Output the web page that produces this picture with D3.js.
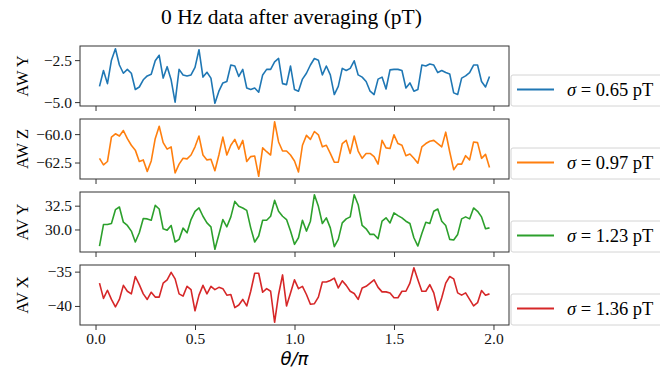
<!DOCTYPE html>
<html>
<head>
<meta charset="utf-8">
<script src="https://cdn.jsdelivr.net/npm/d3@7"></script>
<style>
    body { margin: 0; background: #fff; }
    svg { display: block; font-family: "Liberation Serif", "Times New Roman", serif; }
    .line { fill: none; stroke-width: 1.6; stroke-linejoin: round; }
    .tick line { stroke: #333; }
</style>
</head>
<body>
<div class="chart"></div>
<script>
const WIDTH = 660;
const HEIGHT = 373;
const LEFT = 80;
const RIGHT = 509;
const PANEL_TOP = 46;
const PANEL_STEP = 73;
const PANEL_HEIGHT = 60;
const SERIF = '"Liberation Serif", "Times New Roman", serif';

// theta / pi sample positions
var theta = [
    0.02, 0.04, 0.06, 0.08, 0.10, 0.12, 0.14, 0.16, 0.18, 0.20,
    0.22, 0.24, 0.26, 0.28, 0.30, 0.32, 0.34, 0.36, 0.38, 0.40,
    0.42, 0.44, 0.46, 0.48, 0.50, 0.52, 0.54, 0.56, 0.58, 0.60,
    0.62, 0.64, 0.66, 0.68, 0.70, 0.72, 0.74, 0.76, 0.78, 0.80,
    0.82, 0.84, 0.86, 0.88, 0.90, 0.92, 0.94, 0.96, 0.98, 1.00,
    1.02, 1.04, 1.06, 1.08, 1.10, 1.12, 1.14, 1.16, 1.18, 1.20,
    1.22, 1.24, 1.26, 1.28, 1.30, 1.32, 1.34, 1.36, 1.38, 1.40,
    1.42, 1.44, 1.46, 1.48, 1.50, 1.52, 1.54, 1.56, 1.58, 1.60,
    1.62, 1.64, 1.66, 1.68, 1.70, 1.72, 1.74, 1.76, 1.78, 1.80,
    1.82, 1.84, 1.86, 1.88, 1.90, 1.92, 1.94, 1.96, 1.98
];

var awY = [
    -4.06, -3.12, -3.90, -2.50, -1.82, -2.79, -3.28, -3.05, -3.28, -4.25,
    -4.10, -3.67, -3.44, -3.34, -2.54, -2.21, -3.57, -2.89, -3.67, -5.00,
    -3.05, -3.38, -3.44, -3.38, -2.93, -1.88, -3.51, -3.22, -3.57, -5.07,
    -4.35, -3.86, -3.77, -2.79, -2.85, -3.47, -3.05, -4.16, -4.25, -4.16,
    -4.41, -3.38, -3.05, -3.05, -2.60, -2.40, -3.90, -3.96, -2.85, -4.25,
    -4.35, -3.63, -3.28, -2.79, -2.40, -2.50, -3.38, -2.85, -3.38, -4.55,
    -4.06, -2.99, -3.12, -2.99, -2.54, -3.38, -3.51, -3.77, -4.35, -4.55,
    -3.63, -3.51, -4.22, -3.08, -3.05, -3.05, -3.12, -4.16, -3.86, -4.35,
    -4.25, -2.79, -2.85, -2.73, -2.79, -3.24, -3.12, -3.24, -3.32, -4.45,
    -4.55, -3.57, -3.44, -3.24, -2.79, -2.79, -3.77, -4.10, -3.47
];

var awZ = [
    -62.13, -62.70, -62.41, -60.26, -59.97, -60.17, -59.68, -60.40, -60.98, -61.41,
    -62.41, -62.27, -63.28, -62.36, -60.40, -59.31, -60.75, -61.32, -61.12, -63.42,
    -62.64, -62.13, -62.18, -61.84, -61.12, -60.17, -61.84, -62.27, -62.21, -63.22,
    -61.84, -60.26, -61.84, -60.98, -60.46, -61.32, -60.55, -62.41, -61.98, -61.93,
    -63.71, -61.21, -61.55, -61.84, -58.91, -60.69, -61.49, -61.49, -61.84, -62.36,
    -63.33, -60.98, -60.11, -60.46, -59.77, -60.06, -61.12, -60.98, -61.70, -62.47,
    -62.47, -60.83, -60.55, -61.70, -60.17, -61.49, -62.13, -61.70, -61.70, -61.98,
    -62.64, -60.55, -61.21, -61.26, -60.06, -60.83, -60.98, -61.90, -61.75, -62.13,
    -62.56, -61.12, -60.83, -60.63, -60.55, -60.83, -61.12, -59.83, -61.55, -63.13,
    -62.64, -62.64, -61.90, -62.27, -60.69, -60.75, -62.13, -61.78, -62.93
];

var avY = [
    28.26, 30.52, 30.52, 30.63, 32.08, 32.36, 30.76, 30.42, 29.83, 28.68,
    29.65, 31.15, 31.11, 30.97, 32.53, 32.15, 30.07, 29.93, 30.42, 28.68,
    28.96, 30.14, 29.65, 31.04, 31.91, 32.26, 31.39, 30.69, 30.28, 27.92,
    29.48, 31.04, 30.28, 31.32, 32.95, 32.43, 32.26, 32.01, 30.17, 28.68,
    29.31, 30.97, 30.97, 31.39, 33.06, 31.91, 31.39, 31.04, 29.83, 28.44,
    29.13, 30.97, 29.83, 30.87, 33.65, 32.43, 30.63, 31.22, 30.17, 28.19,
    28.96, 30.69, 31.11, 31.32, 33.65, 32.60, 30.42, 30.07, 29.48, 29.48,
    29.03, 30.87, 31.22, 30.69, 31.74, 31.46, 31.22, 30.87, 30.63, 29.13,
    28.26, 29.58, 30.76, 30.63, 31.91, 32.15, 30.87, 30.42, 28.96, 28.89,
    29.48, 31.11, 31.32, 31.11, 32.26, 31.91, 31.32, 30.07, 30.17
];

var avX = [
    -36.67, -38.90, -37.71, -39.05, -40.14, -39.05, -37.00, -37.86, -38.24, -35.71,
    -36.90, -38.24, -39.05, -38.00, -38.71, -38.71, -36.67, -36.19, -35.10, -36.05,
    -38.24, -38.57, -37.14, -37.62, -40.71, -38.43, -37.00, -38.24, -37.14, -37.62,
    -37.29, -37.48, -38.43, -38.33, -40.24, -39.86, -39.05, -40.00, -37.86, -35.24,
    -35.24, -38.00, -37.48, -37.86, -42.38, -38.33, -35.48, -40.00, -38.10, -36.19,
    -37.48, -37.14, -38.33, -39.76, -39.67, -38.71, -36.52, -36.52, -36.29, -35.95,
    -37.38, -36.33, -37.00, -37.86, -38.19, -39.05, -37.38, -37.14, -36.67, -36.19,
    -37.29, -37.95, -37.95, -38.10, -38.81, -38.81, -37.86, -37.86, -36.67, -34.43,
    -36.19, -37.86, -37.86, -36.90, -38.10, -40.62, -38.81, -36.67, -35.71, -36.05,
    -38.10, -38.43, -38.10, -39.05, -40.00, -39.52, -37.76, -38.43, -38.24
];

var panelNames = ["AW Y", "AW Z", "AV Y", "AV X"];
var panelSeries = [awY, awZ, avY, avX];
var panelColors = ["#1f77b4", "#ff7f0e", "#2ca02c", "#d62728"];
var sigmaLabels = ["0.65", "0.97", "1.23", "1.36"];

var yTickValues = [[-5.0, -2.5], [-62.5, -60.0], [30.0, 32.5], [-40, -35]];
var yTickLabels = [["\u22125.0", "\u22122.5"], ["\u221262.5", "\u221260.0"], ["30.0", "32.5"], ["\u221240", "\u221235"]];
var xTickValues = [0.0, 0.5, 1.0, 1.5, 2.0];
var xTickLabels = ["0.0", "0.5", "1.0", "1.5", "2.0"];

function padded(values) {
    var ext = d3.extent(values);
    var pad = (ext[1] - ext[0]) * 0.05;
    return [ext[0] - pad, ext[1] + pad];
}

var xScale = d3.scaleLinear().domain(padded(theta)).range([LEFT, RIGHT]);

var svg = d3.select('.chart').append('svg')
    .attr('width', WIDTH)
    .attr('height', HEIGHT);

svg.append('text')
    .attr('x', (LEFT + RIGHT) / 2 - 3)
    .attr('y', 24)
    .attr('text-anchor', 'middle')
    .style('font-size', '21.5px')
    .text('0 Hz data after averaging (pT)');

function styleTicks(axisG) {
    axisG.attr('font-family', null).attr('font-size', null);
    axisG.selectAll('.tick text')
        .style('font-family', SERIF)
        .style('font-size', '15.5px')
        .attr('fill', '#111');
}

function drawPanel(k) {
    var top = PANEL_TOP + k * PANEL_STEP;
    var bottom = top + PANEL_HEIGHT;
    var values = panelSeries[k];
    var yScale = d3.scaleLinear().domain(padded(values)).range([bottom, top]);
    var g = svg.append('g');

    var isLast = k === panelSeries.length - 1;
    var xAxis = d3.axisBottom(xScale).tickValues(xTickValues).tickSize(5).tickPadding(3)
        .tickFormat(function (d, i) { return isLast ? xTickLabels[i] : ''; });
    var xAxisG = g.append('g').attr('transform', 'translate(0,' + bottom + ')').call(xAxis);
    styleTicks(xAxisG);

    var yAxis = d3.axisLeft(yScale).tickValues(yTickValues[k]).tickSize(5).tickPadding(3)
        .tickFormat(function (d, i) { return yTickLabels[k][i]; });
    var yAxisG = g.append('g').attr('transform', 'translate(' + LEFT + ',0)').call(yAxis);
    styleTicks(yAxisG);

    g.selectAll('.domain').remove();

    // legend box, sticks out past the figure edge
    var legend = g.append('g');
    legend.append('rect')
        .attr('x', RIGHT + 2).attr('y', bottom - 31)
        .attr('width', 170).attr('height', 31)
        .attr('rx', 2)
        .attr('fill', '#fff').attr('stroke', '#d4d4d4');
    legend.append('line')
        .attr('x1', 517).attr('x2', 554)
        .attr('y1', bottom - 16.5).attr('y2', bottom - 16.5)
        .attr('stroke', panelColors[k]).attr('stroke-width', 1.8);
    var lt = legend.append('text')
        .attr('x', 567).attr('y', bottom - 10)
        .style('font-size', '18.5px');
    lt.append('tspan').style('font-style', 'italic').text('\u03c3');
    lt.append('tspan').text(' = ' + sigmaLabels[k] + ' pT');

    g.append('rect')
        .attr('x', LEFT).attr('y', top)
        .attr('width', RIGHT - LEFT).attr('height', PANEL_HEIGHT)
        .attr('fill', 'none').attr('stroke', '#333').attr('stroke-width', 1);

    var line = d3.line()
        .x(function (d, i) { return xScale(theta[i]); })
        .y(function (d) { return yScale(d); });
    g.append('path')
        .attr('class', 'line')
        .attr('d', line(values))
        .attr('stroke', panelColors[k]);

    g.append('text')
        .attr('transform', 'translate(28,' + (top + PANEL_HEIGHT / 2) + ') rotate(-90)')
        .attr('text-anchor', 'middle')
        .style('font-size', '16.5px')
        .text(panelNames[k]);
}

for (var k = 0; k < panelSeries.length; k++) {
    drawPanel(k);
}

svg.append('text')
    .attr('x', (LEFT + RIGHT) / 2)
    .attr('y', 365)
    .attr('text-anchor', 'middle')
    .style('font-family', '"DejaVu Sans", sans-serif')
    .style('font-style', 'italic')
    .style('font-size', '18px')
    .text('\u03b8/\u03c0');
</script>
</body>
</html>
